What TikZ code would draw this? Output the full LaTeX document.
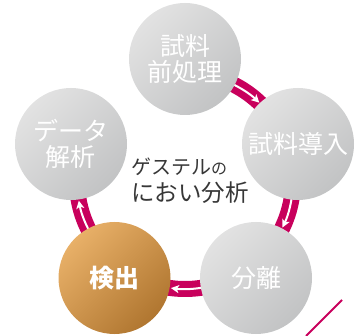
\documentclass[tikz,border=0pt]{standalone}
\usepackage{fontspec}
\newfontfamily\jp{Noto Sans CJK JP}
\usetikzlibrary{arrows.meta}
\definecolor{mag}{RGB}{200,0,92}
\definecolor{gA}{RGB}{226,226,226}
\definecolor{gB}{RGB}{194,195,196}
\definecolor{bA}{RGB}{232,176,104}
\definecolor{bB}{RGB}{176,118,48}
\definecolor{txt}{RGB}{55,55,55}
\begin{document}
\begin{tikzpicture}[x=1pt,y=1pt,
  stage/.style={circle, minimum size=112pt, inner sep=0pt, text=white, align=center,
    font=\jp\fontsize{25}{26}\selectfont,
    top color=gA, bottom color=gB, shading angle=45},
  hot/.style={stage, top color=bA, bottom color=bB, shading angle=45},
  band/.style={draw=mag, line width=16pt},
  warrow/.style={draw=white, line width=2pt, -{Stealth[length=8pt,width=8pt,inset=2pt]}},
  cut/.style={draw=mag, line width=2pt}
]
\useasboundingbox (0,0) rectangle (359,335);
\coordinate (P) at (185,154);
% ring bands with arrows (clockwise)
\foreach \m [evaluate=\m as \sa using \m+16, evaluate=\m as \ea using \m-16,
             evaluate=\m as \ws using \m+14, evaluate=\m as \we using \m-7.5] in {54,-18,-90,-162} {
  \draw[band] ([shift={(\sa:108)}]P) arc[start angle=\sa, end angle=\ea, radius=108];
  \draw[warrow] ([shift={(\ws:108)}]P) arc[start angle=\ws, end angle=\we, radius=108];
}
% stages
\node[stage] (prep) at (185,276) {試料\\前処理};
\node[stage] (inj)  at (298,191) {試料導入};
\node[stage] (sep)  at (256,57)  {分離};
\node[hot, font=\jp\bfseries\fontsize{25}{26}\selectfont] (det) at (114.5,57) {検出};
\node[stage] (data) at (71,191)  {データ\\解析};
% centre title
\node[anchor=west, align=left, inner sep=0pt, text=txt, font=\jp\fontsize{23.5}{27.5}\selectfont]
  (title) at (131,154.5) {{\fontsize{20}{27.5}\selectfont ゲステル}{\fontsize{16}{27.5}\selectfont の}\\におい分析};
% diagonal accent
\coordinate (d1) at (342,35);
\coordinate (d2) at (306,-1);
\draw[cut] (d1) -- (d2);
\end{tikzpicture}
\end{document}
